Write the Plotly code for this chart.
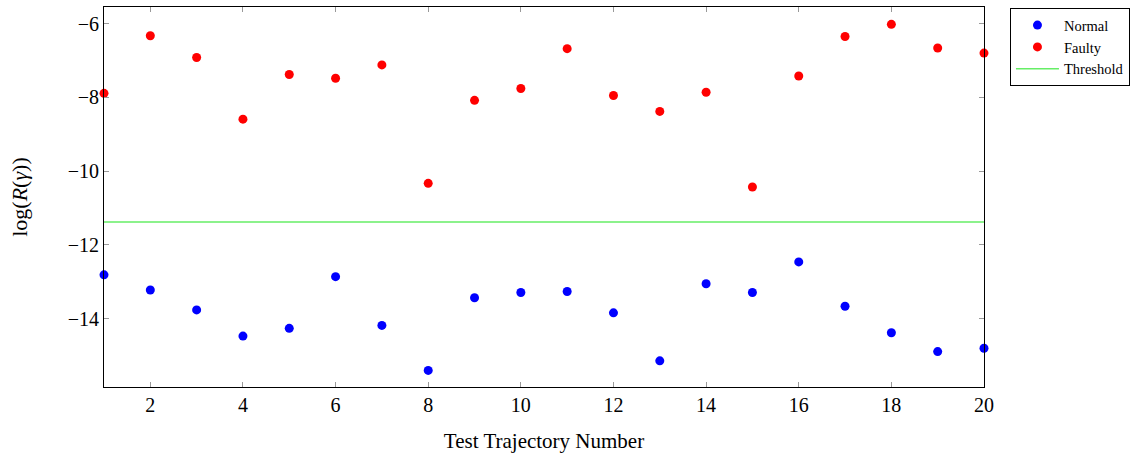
import plotly.graph_objects as go

# Trajectory indices and log-residual values
trajectory = list(range(1, 21))
normal_vals = [-12.81, -13.22, -13.76, -14.47, -14.26, -12.86, -14.18, -15.40, -13.43, -13.29,
               -13.26, -13.84, -15.14, -13.05, -13.29, -12.46, -13.66, -14.38, -14.89, -14.80]
faulty_vals = [-7.89, -6.33, -6.92, -8.59, -7.38, -7.48, -7.12, -10.33, -8.08, -7.76,
               -6.68, -7.95, -8.38, -7.86, -10.43, -7.42, -6.35, -6.02, -6.66, -6.80]
threshold = -11.38
x_ticks = [2, 4, 6, 8, 10, 12, 14, 16, 18, 20]
y_ticks = [-6, -8, -10, -12, -14]

serif = "Liberation Serif, Times New Roman, serif"

fig = go.Figure()
fig.add_trace(go.Scatter(
    x=trajectory, y=normal_vals, mode="markers", name="Normal",
    marker=dict(color="#0000ff", size=9), cliponaxis=False,
))
fig.add_trace(go.Scatter(
    x=trajectory, y=faulty_vals, mode="markers", name="Faulty",
    marker=dict(color="#ff0000", size=9), cliponaxis=False,
))
fig.add_trace(go.Scatter(
    x=[trajectory[0], trajectory[-1]], y=[threshold, threshold], mode="lines",
    name="Threshold", line=dict(color="#66ee66", width=1.5),
))

axis_common = dict(
    showgrid=False, zeroline=False, showline=True, linecolor="black", linewidth=1,
    mirror="ticks", ticks="inside", ticklen=5, tickcolor="#999999", tickwidth=1,
    tickfont=dict(family=serif, size=20, color="black"),
)

fig.update_layout(
    width=1135, height=453,
    margin=dict(l=104, r=151, t=7, b=66, autoexpand=False),
    paper_bgcolor="white", plot_bgcolor="white",
    font=dict(family=serif, color="black"),
    xaxis=dict(range=[1, 20], tickvals=x_ticks,
               title=dict(text="Test Trajectory Number", font=dict(size=21), standoff=18),
               **axis_common),
    yaxis=dict(range=[-15.85, -5.55], tickvals=y_ticks,
               title=dict(text="log(<i>R</i>(<i>γ</i>))", font=dict(size=22), standoff=34),
               **axis_common),
    legend=dict(
        x=1.0295, y=0.997, xanchor="left", yanchor="top",
        bordercolor="black", borderwidth=1, bgcolor="white",
        font=dict(family=serif, size=14.5, color="black"),
        tracegroupgap=0, itemwidth=43,
    ),
    showlegend=True,
)

fig.write_html("out.html")
